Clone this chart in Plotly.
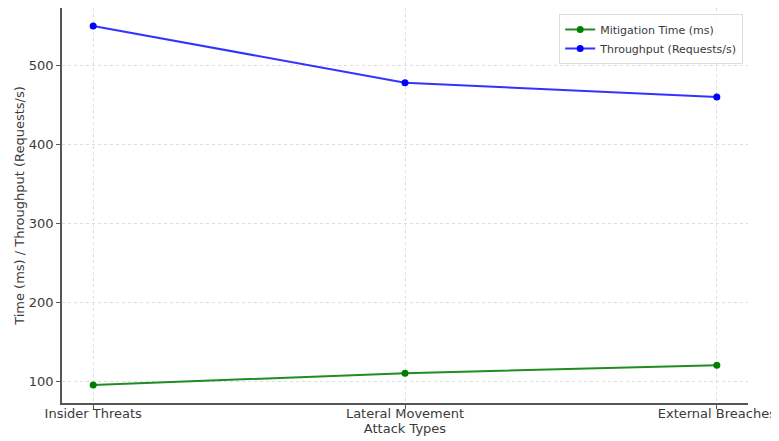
import plotly.graph_objects as go

categories = ["Insider Threats", "Lateral Movement", "External Breaches"]
mitigation_time = [95, 110, 120]
throughput = [550, 478, 460]

fig = go.Figure()
fig.add_trace(go.Scatter(x=[0, 1, 2], y=mitigation_time, mode="lines+markers",
                         name="Mitigation Time (ms)",
                         line=dict(color="#228B22", width=2), marker=dict(size=7, color="green")))
fig.add_trace(go.Scatter(x=[0, 1, 2], y=throughput, mode="lines+markers",
                         name="Throughput (Requests/s)",
                         line=dict(color="#3333ff", width=2), marker=dict(size=7, color="blue")))

font_color = "#3a3a3a"
# page body adds an 8px offset, margins compensate for it
fig.update_layout(
    width=779, height=441,
    margin=dict(l=54, r=39, t=0, b=46),
    paper_bgcolor="white", plot_bgcolor="white",
    font=dict(family="DejaVu Sans", size=13, color=font_color),
    showlegend=True,
    legend=dict(x=0.993, y=0.985, xanchor="right", yanchor="top",
                bgcolor="rgba(255,255,255,0.8)", bordercolor="#dddddd", borderwidth=1,
                font=dict(size=11, color=font_color), tracegroupgap=0, itemwidth=30),
)
fig.update_xaxes(
    range=[-0.1, 2.1], tickmode="array", tickvals=[0, 1, 2], ticktext=categories,
    showline=True, linecolor="#555555", linewidth=1.5, mirror=False,
    ticks="outside", ticklen=4, tickcolor="#555555", ticklabelstandoff=-6,
    showgrid=True, gridcolor="#dddddd", griddash="dot", gridwidth=1,
    zeroline=False, automargin=False,
    title=dict(text="Attack Types", font=dict(size=13), standoff=0),
    tickfont=dict(size=13),
)
fig.update_yaxes(
    range=[72.25, 572.75], tickvals=[100, 200, 300, 400, 500],
    showline=True, linecolor="#555555", linewidth=1.5, mirror=False,
    ticks="outside", ticklen=4, tickcolor="#555555",
    showgrid=True, gridcolor="#dddddd", griddash="dot", gridwidth=1,
    zeroline=False, automargin=False,
    title=dict(text="Time (ms) / Throughput (Requests/s)", font=dict(size=13), standoff=1),
    tickfont=dict(size=13),
)
fig.write_html("out.html")
